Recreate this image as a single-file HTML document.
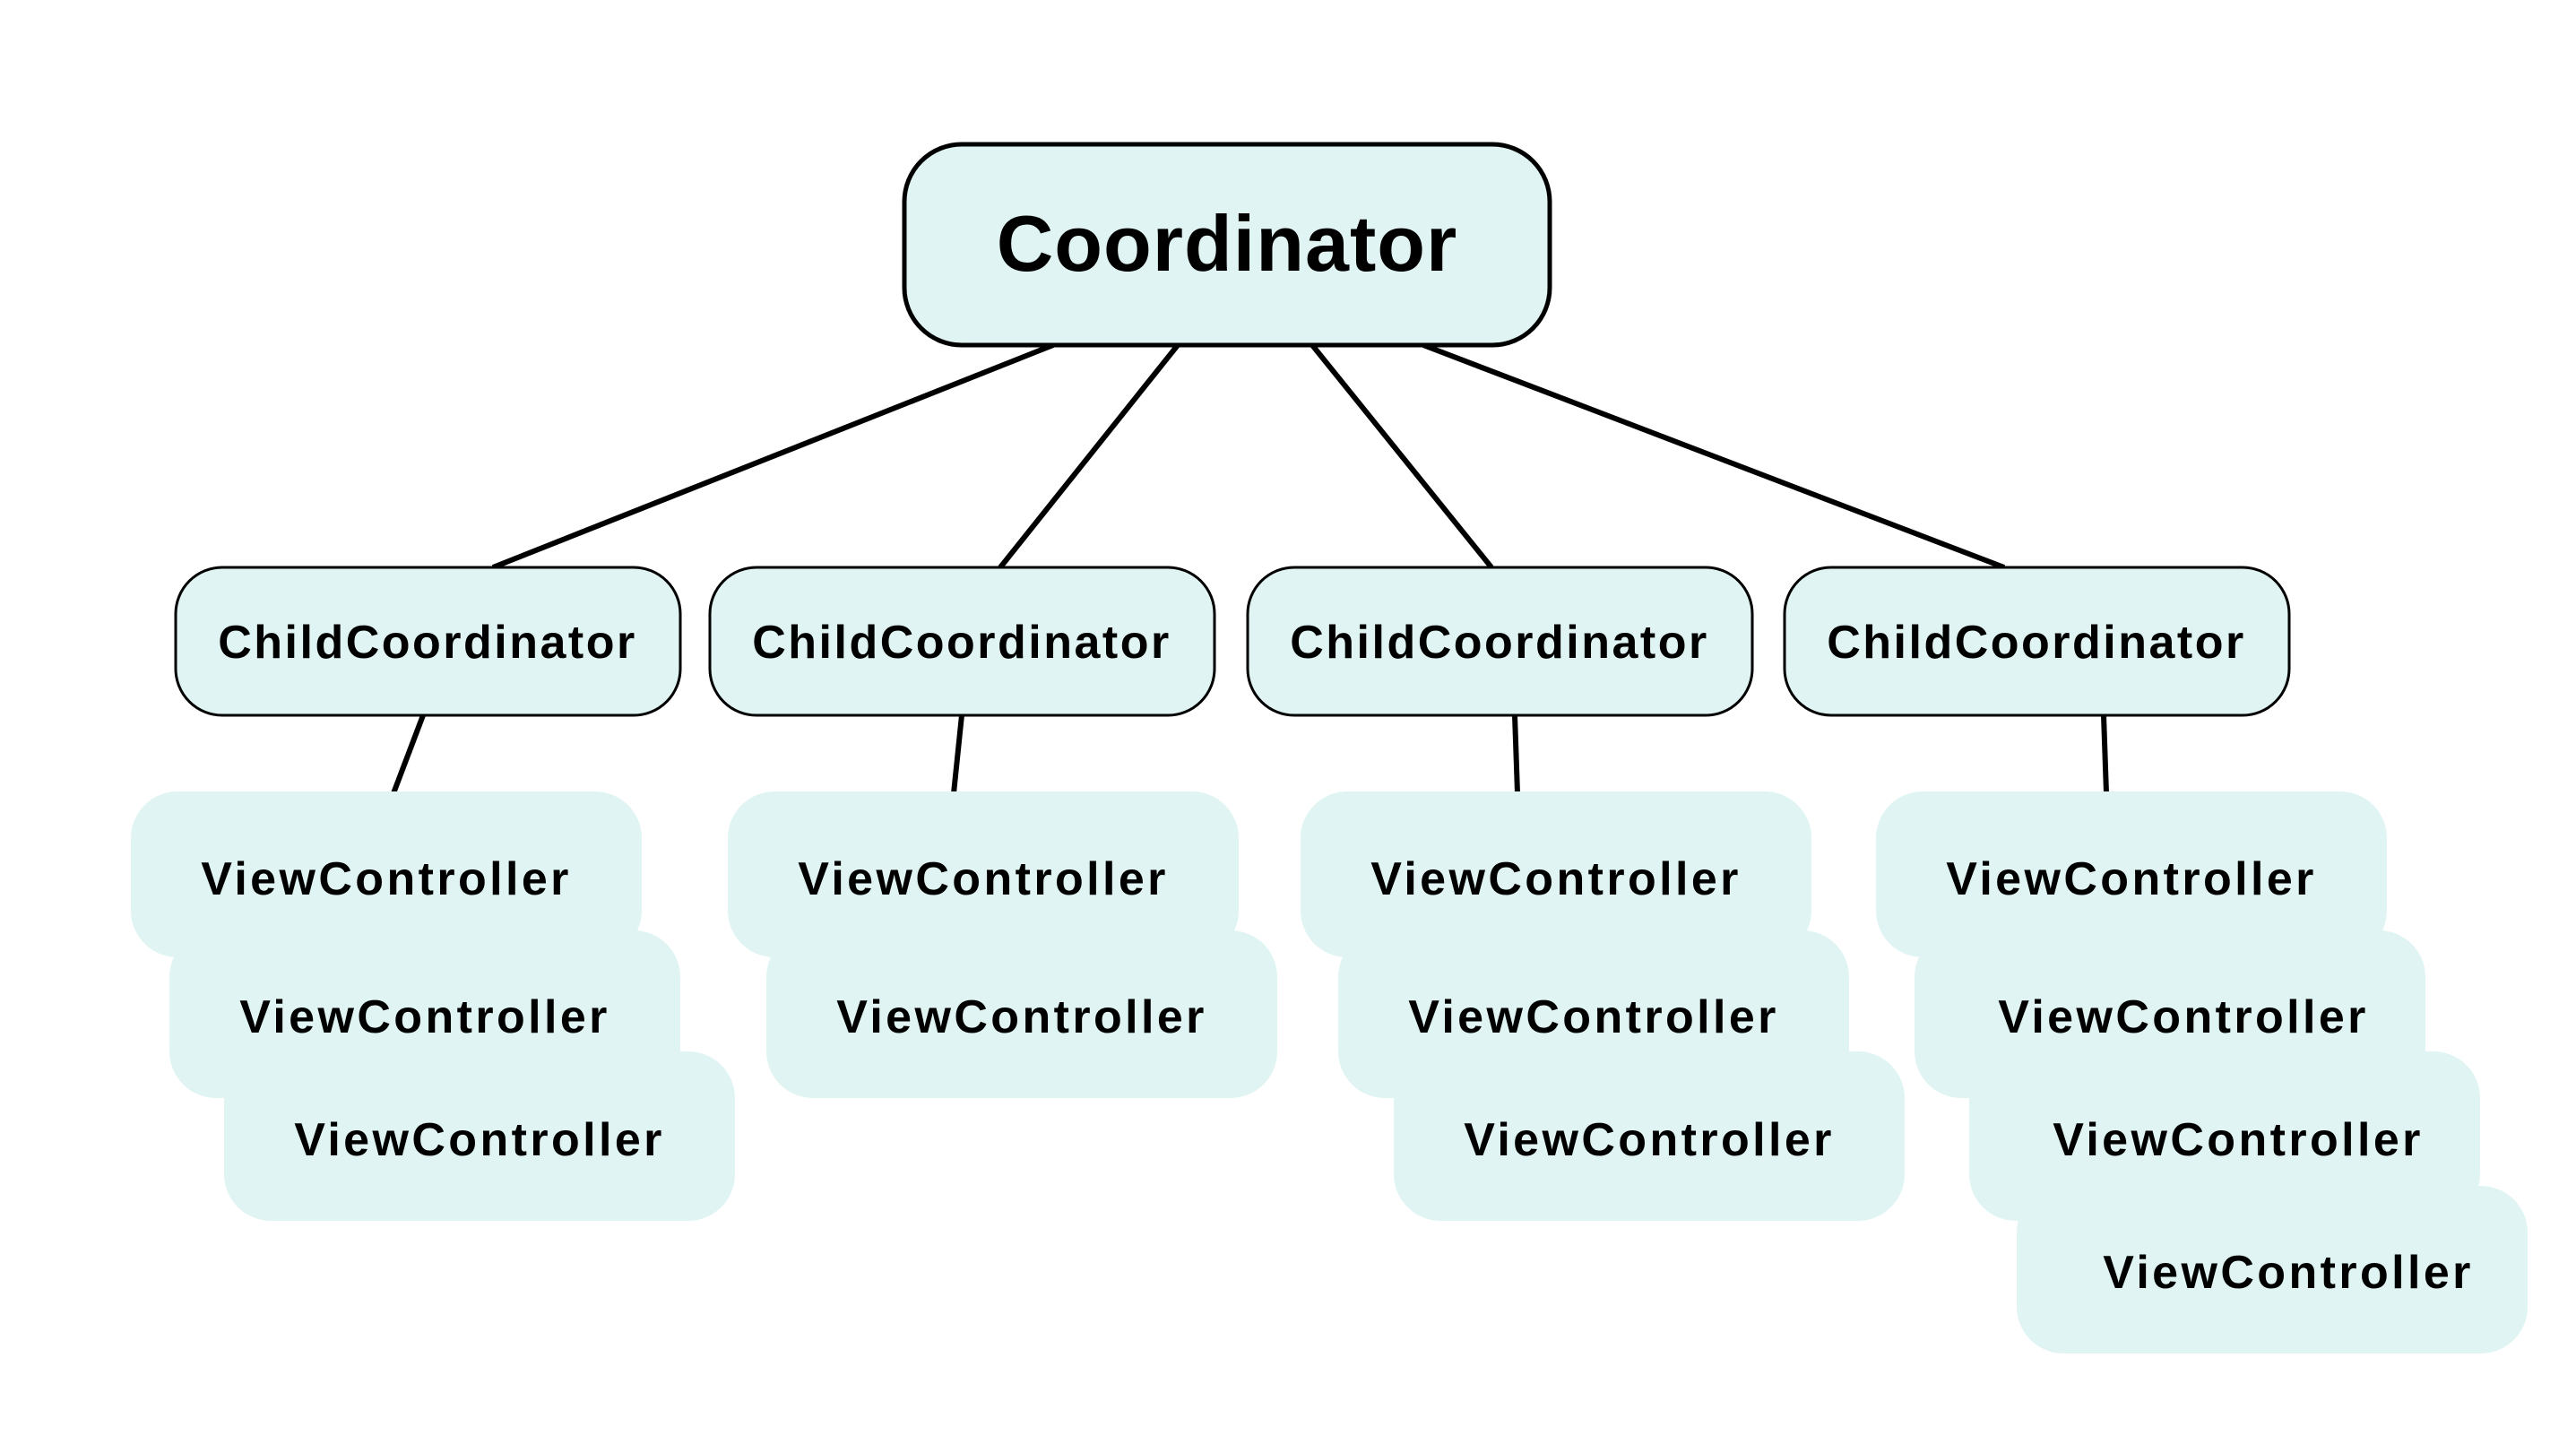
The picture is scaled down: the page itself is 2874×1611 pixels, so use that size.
<!DOCTYPE html>
<html><head><meta charset="utf-8"><style>
html,body{margin:0;padding:0;background:#fff;}
svg{display:block;}
text{font-family:"Liberation Sans",sans-serif;font-weight:bold;fill:#000;}
</style></head><body>
<svg width="2874" height="1611" viewBox="0 0 2874 1611" xmlns="http://www.w3.org/2000/svg">
<g stroke="#000" stroke-width="6" stroke-linecap="butt">
<line x1="1175" y1="385" x2="550" y2="633"/>
<line x1="1314" y1="385" x2="1116" y2="633"/>
<line x1="1464" y1="385" x2="1664" y2="633"/>
<line x1="1588" y1="385" x2="2236" y2="633"/>
<line x1="472" y1="798" x2="439" y2="885"/>
<line x1="1073" y1="798" x2="1064" y2="885"/>
<line x1="1690" y1="798" x2="1693" y2="885"/>
<line x1="2347" y1="798" x2="2350" y2="885"/>
</g>
<rect x="1009" y="161" width="720" height="224" rx="64" fill="#e0f5f3" stroke="#000" stroke-width="5"/>
<text x="1369" y="302" font-size="88" text-anchor="middle" letter-spacing="1">Coordinator</text>
<g fill="#e0f5f3" stroke="#000" stroke-width="3">
<rect x="196" y="633" width="563" height="165" rx="52"/>
<rect x="792" y="633" width="563" height="165" rx="52"/>
<rect x="1392" y="633" width="563" height="165" rx="52"/>
<rect x="1991" y="633" width="563" height="165" rx="52"/>
</g>
<g font-size="52" text-anchor="middle" letter-spacing="2.5">
<text x="477" y="734">ChildCoordinator</text>
<text x="1073" y="734">ChildCoordinator</text>
<text x="1673" y="734">ChildCoordinator</text>
<text x="2272" y="734">ChildCoordinator</text>
</g>
<g fill="#e0f5f3">
<rect x="146" y="883" width="570" height="185" rx="52"/>
<rect x="189" y="1038" width="570" height="187" rx="52"/>
<rect x="250" y="1173" width="570" height="189" rx="52"/>
<rect x="812" y="883" width="570" height="185" rx="52"/>
<rect x="855" y="1038" width="570" height="187" rx="52"/>
<rect x="1451" y="883" width="570" height="185" rx="52"/>
<rect x="1493" y="1038" width="570" height="187" rx="52"/>
<rect x="1555" y="1173" width="570" height="189" rx="52"/>
<rect x="2093" y="883" width="570" height="185" rx="52"/>
<rect x="2136" y="1038" width="570" height="187" rx="52"/>
<rect x="2197" y="1173" width="570" height="189" rx="52"/>
<rect x="2250" y="1323" width="570" height="187" rx="52"/>
</g>
<g font-size="52" text-anchor="middle" letter-spacing="3.4">
<text x="431" y="998">ViewController</text>
<text x="474" y="1152">ViewController</text>
<text x="535" y="1289">ViewController</text>
<text x="1097" y="998">ViewController</text>
<text x="1140" y="1152">ViewController</text>
<text x="1736" y="998">ViewController</text>
<text x="1778" y="1152">ViewController</text>
<text x="1840" y="1289">ViewController</text>
<text x="2378" y="998">ViewController</text>
<text x="2436" y="1152">ViewController</text>
<text x="2497" y="1289">ViewController</text>
<text x="2553" y="1437">ViewController</text>
</g>
</svg>
</body></html>
